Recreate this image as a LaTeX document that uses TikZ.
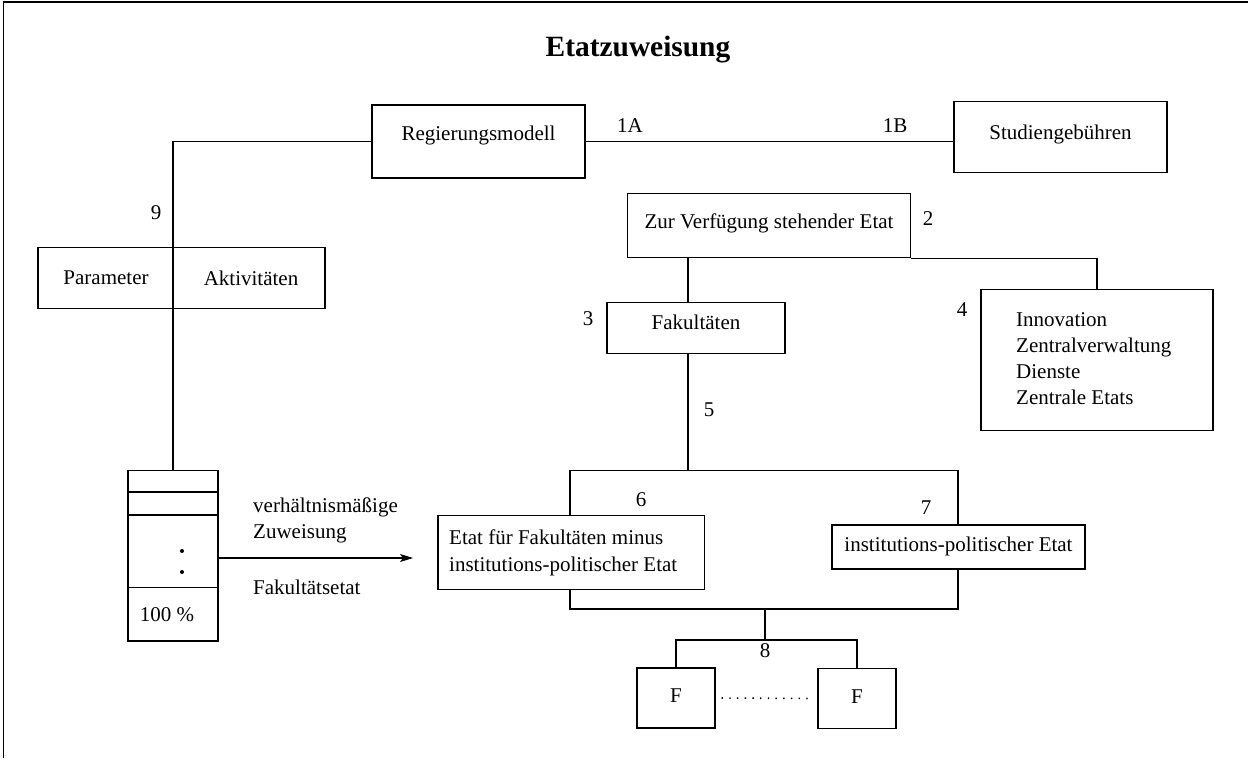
\documentclass[tikz,border=0pt]{standalone}
\usepackage{fontspec}
\setmainfont{Liberation Serif}
\usetikzlibrary{arrows.meta}
\begin{document}
\begin{tikzpicture}[x=1pt,y=-1pt,
  every node/.style={font=\fontsize{21}{26}\selectfont},
  box/.style={draw,line width=1.1pt,inner sep=0pt,text height=14pt,text depth=4.6pt},
  txt/.style={inner sep=0pt},
  lnk/.style={line width=1.1pt},
  num/.style={inner sep=0pt},
  dotline/.style={line width=1.6pt,dash pattern=on 1.4pt off 6.3pt},
]
\useasboundingbox (0,0) rectangle (1248,758);

% frame (top and left edges only)
\draw[line width=1.6pt] (1248,2) -- (3.5,2) -- (3.5,758);

% title
\node[txt,font=\fontsize{29.4}{34}\selectfont\bfseries] (title) at (638,50) {Etatzuweisung};

% top row
\node[box,minimum width=213pt,minimum height=73pt,text depth=17pt] (reg) at (478.5,141.5) {Regierungsmodell};
\node[box,minimum width=213pt,minimum height=71pt,text depth=10pt] (stud) at (1060.5,137.3) {Studiengebühren};
\draw[lnk] (reg.east) -- (reg.east -| stud.west);
\node[num] (l1a) at (630,126) {1A};
\node[num] (l1b) at (895,126) {1B};

% available budget and its branches
\node[box,minimum width=283pt,minimum height=64pt,text depth=8pt] (zur) at (769,225.5) {Zur Verfügung stehender Etat};
\node[num] (l2) at (928,219) {2};
\node[box,minimum width=178pt,minimum height=51pt,text depth=11pt] (fak) at (696,328.4) {Fakultäten};
\node[num] (l3) at (588,319) {3};
\node[box,minimum width=232pt,minimum height=141pt] (inn) at (1097,360.4) {};
\node[txt,anchor=west,align=left] (innt) at (1016,359) {Innovation\\Zentralverwaltung\\Dienste\\Zentrale Etats};
\node[num] (l4) at (962,310) {4};

\coordinate (j5) at (688,470.7);
\draw[lnk] (zur.south -| j5) -- (fak.north -| j5);
\draw[lnk] (zur.south east) -| (inn.north);
\draw[lnk] (fak.south -| j5) -- (j5);
\node[num] (l5) at (709,410) {5};

% faculty budget split
\node[box,minimum width=266.6pt,minimum height=73.5pt] (etat) at (571.3,552.3) {};
\node[txt,anchor=west,align=left,font=\fontsize{21}{26.7}\selectfont] (etatt) at (449,553) {Etat für Fakultäten minus\\institutions-politischer Etat};
\node[box,minimum width=253pt,minimum height=44pt] (inst) at (958.5,547) {institutions-politischer Etat};
\node[num] (l6) at (641,500) {6};
\node[num] (l7) at (926,508) {7};

\coordinate (tl) at (570,470.7);
\coordinate (tr) at (958,470.7);
\coordinate (bl) at (570,609);
\coordinate (br) at (958,609);
\draw[lnk] (etat.north -| tl) -- (tl) -- (tr) -- (inst.north -| tr);
\draw[lnk] (etat.south -| bl) -- (bl) -- (br) -- (inst.south -| br);

% faculties
\coordinate (j8t) at (765,609);
\coordinate (j8) at (765,640);
\node[box,minimum width=78pt,minimum height=60pt] (f1) at (676,698) {F};
\node[box,minimum width=78pt,minimum height=60pt] (f2) at (857,698.5) {F};
\draw[lnk] (j8t) -- (j8);
\draw[lnk] (f1.north) |- (j8) -| (f2.north);
\node[num] (l8) at (765,651) {8};
\draw[dotline,shorten <=6pt,shorten >=5pt] (f1.east) -- (f2.west);

% government model on the left
\node[box,minimum width=287pt,minimum height=61pt] (par) at (181.5,278.4) {};
\node[txt] (part) at (106,278) {Parameter};
\node[txt] (akt) at (251,278) {Aktivitäten};
\node[num] (l9) at (156,213) {9};

% distribution stack
\node[box,minimum width=90pt,minimum height=170.3pt] (stack) at (173,555.85) {};
\draw[lnk] (128,492) -- (218,492);
\draw[lnk] (128,515) -- (218,515);
\draw[lnk] (128,587.7) -- (218,587.7);
\fill (182,551) circle (2pt);
\fill (182,572) circle (2pt);
\node[txt] (pct) at (167,615) {100 \%};

\draw[lnk] (reg.west) -| (stack.north);

% proportional allocation arrow
\coordinate (arre) at (413,558);
\draw[lnk,-{Stealth[length=13pt,width=8pt,inset=3pt]}] (stack.east |- arre) -- (arre);
\node[txt,anchor=west,align=left] (zuw) at (253,520) {verhältnismäßige\\Zuweisung};
\node[txt,anchor=west] (fke) at (253,587) {Fakultätsetat};
\end{tikzpicture}
\end{document}
